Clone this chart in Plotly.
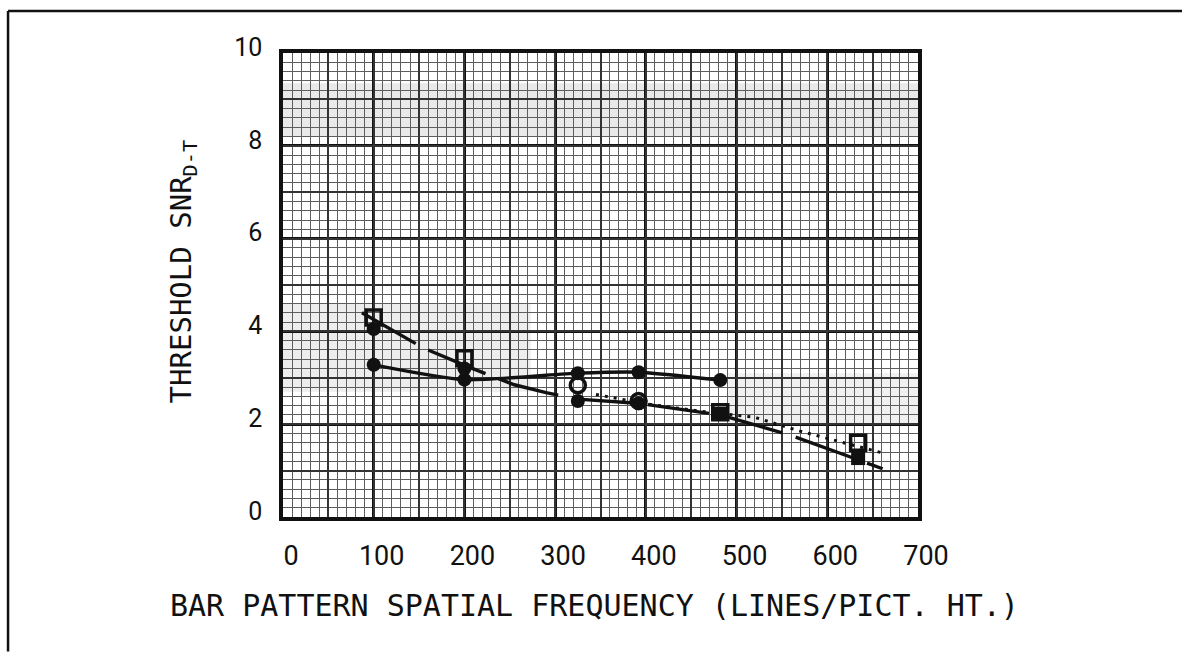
import plotly.graph_objects as go

# ---------------- data ----------------
x_tick_vals = [0, 100, 200, 300, 400, 500, 600, 700]
x_tick_text = ["0", "100", "200", "300", "400", "500", "600", "700"]
y_tick_vals = [0, 2, 4, 6, 8, 10]
y_tick_text = ["0", "2", "4", "6", "8", "10"]

# solid curve with filled circles
solid_x = [100, 200, 325, 392, 482]
solid_y = [3.28, 2.96, 3.10, 3.12, 2.95]

# lower set (filled markers) and its long-dashed fitted curve
dash_x = [100, 200, 325, 392, 482, 634]
dash_y = [4.05, 3.20, 2.50, 2.45, 2.22, 1.27]
dash_fit_x = [87, 155, 205, 255, 290, 325, 392, 482, 560, 661]
dash_fit_y = [4.40, 3.64, 3.23, 2.85, 2.68, 2.54, 2.45, 2.20, 1.76, 1.04]

# upper set (open markers) and its dotted fitted curve
dot_x = [100, 200, 325, 392, 482, 634]
dot_y = [4.30, 3.42, 2.84, 2.50, 2.26, 1.60]
dot_fit_x = [345, 400, 460, 520, 570, 661]
dot_fit_y = [2.64, 2.44, 2.28, 2.15, 1.85, 1.38]

x_title = "BAR PATTERN SPATIAL FREQUENCY (LINES/PICT. HT.)"
y_title = "THRESHOLD SNR<sub>D-T</sub>"

# ---------------- styling ----------------
INK = "#111111"
dash_symbols = ["circle", "circle", "circle", "circle", "square", "square"]
dot_symbols = ["square-open", "square-open", "circle-open", "circle-open", "square-open", "square-open"]

fig = go.Figure()

fig.add_trace(go.Scatter(x=dash_fit_x, y=dash_fit_y, mode="lines",
                         line=dict(color=INK, width=3.4, dash="62px,14px"),
                         hoverinfo="skip", showlegend=False))
fig.add_trace(go.Scatter(x=dot_fit_x, y=dot_fit_y, mode="lines",
                         line=dict(color=INK, width=3, dash="3px,6px"),
                         hoverinfo="skip", showlegend=False))
fig.add_trace(go.Scatter(x=solid_x, y=solid_y, mode="lines+markers",
                         line=dict(color=INK, width=3.4, shape="spline", smoothing=0.6),
                         marker=dict(symbol="circle", size=14, color=INK),
                         showlegend=False))
fig.add_trace(go.Scatter(x=dash_x, y=dash_y, mode="markers",
                         marker=dict(symbol=dash_symbols, size=14, color=INK),
                         showlegend=False))
fig.add_trace(go.Scatter(x=dot_x, y=dot_y, mode="markers",
                         marker=dict(symbol=dot_symbols, size=15, color=INK,
                                     line=dict(color=INK, width=3.5)),
                         showlegend=False))

tick_font_x = dict(family="Roboto, Arial, sans-serif", size=27, color=INK)
tick_font_y = dict(family="Roboto, Arial, sans-serif", size=25, color=INK)
title_font = dict(family="DejaVu Sans Mono, monospace", size=30, color=INK)

fig.update_layout(
    width=1182, height=658, autosize=False,
    margin=dict(l=283, r=264, t=53, b=141),
    paper_bgcolor="white", plot_bgcolor="white",
    xaxis=dict(range=[0, 700], tickmode="array", tickvals=x_tick_vals, ticktext=x_tick_text,
               showgrid=True, gridcolor="#101010", gridwidth=2.6, zeroline=False,
               minor=dict(dtick=10, showgrid=True, gridcolor="#5e5e5e", gridwidth=1.2),
               showline=True, linecolor=INK, linewidth=3.5, mirror=True,
               ticks="", tickfont=tick_font_x, ticklabelstandoff=12, ticklabelshift=8),
    yaxis=dict(range=[0, 10], tickmode="array", tickvals=y_tick_vals, ticktext=y_tick_text,
               showgrid=True, gridcolor="#101010", gridwidth=2.6, zeroline=False,
               minor=dict(dtick=0.2, showgrid=True, gridcolor="#5e5e5e", gridwidth=1.2),
               showline=True, linecolor=INK, linewidth=3.5, mirror=True,
               ticks="", tickfont=tick_font_y, ticklabelstandoff=12, ticklabelshift=-6),
    xaxis2=dict(range=[0, 700], overlaying="x", anchor="y", dtick=50, showgrid=True,
                gridcolor="#333333", gridwidth=1.6, zeroline=False, showticklabels=False,
                ticks=""),
    yaxis2=dict(range=[0, 10], overlaying="y", anchor="x", dtick=1, showgrid=True,
                gridcolor="#333333", gridwidth=1.6, zeroline=False, showticklabels=False,
                ticks=""),
    annotations=[
        dict(text=x_title, xref="paper", yref="paper", x=0.49, y=-0.19,
             xanchor="center", yanchor="middle", showarrow=False, font=title_font),
        dict(text=y_title, xref="paper", yref="paper", x=-0.157, y=0.53,
             xanchor="center", yanchor="middle", showarrow=False, textangle=-90,
             font=dict(family="DejaVu Sans Mono, monospace", size=29, color=INK)),
    ],
    shapes=[
        # faint photocopy shading on the graph paper
        dict(type="rect", xref="paper", yref="paper", x0=0, x1=1, y0=0.82, y1=0.935,
             fillcolor="#9a9a9a", opacity=0.22, line=dict(width=0), layer="below"),
        dict(type="rect", xref="paper", yref="paper", x0=0, x1=0.39, y0=0.27, y1=0.46,
             fillcolor="#9a9a9a", opacity=0.18, line=dict(width=0), layer="below"),
        dict(type="rect", xref="paper", yref="paper", x0=0.7, x1=1, y0=0.2, y1=0.31,
             fillcolor="#9a9a9a", opacity=0.15, line=dict(width=0), layer="below"),
        # outer frame of the page
        dict(type="line", xref="paper", yref="paper", x0=-0.433, x1=1.416, y0=1.0905, y1=1.0905,
             line=dict(color=INK, width=2.5)),
        dict(type="line", xref="paper", yref="paper", x0=-0.433, x1=-0.433, y0=1.0905, y1=-0.29,
             line=dict(color=INK, width=2.5)),
    ],
)
# an invisible trace so the overlay grid axes are rendered
fig.add_trace(go.Scatter(x=[None], y=[None], xaxis="x2", yaxis="y2", showlegend=False,
                         hoverinfo="skip"))

fig.write_html("out.html")
